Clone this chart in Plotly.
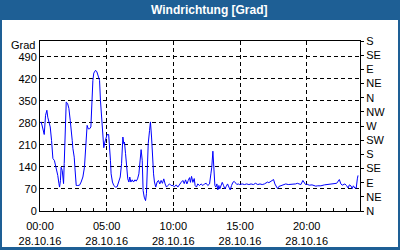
import plotly.graph_objects as go

DATE = "2016-10-28"
times = ["00:02","00:05","00:10","00:16","00:19","00:25","00:31","00:35","00:40","00:46","00:52","00:58",
         "01:05","01:13","01:20","01:25","01:28","01:32","01:35","01:40","01:43","01:46","01:49","01:52","01:55","01:58",
         "02:04","02:10","02:16","02:20","02:25","02:28","02:34","02:37","02:40","02:43","02:50","02:58",
         "03:05","03:13","03:20","03:25","03:28","03:32","03:37","03:43","03:49","03:53","03:58",
         "04:02","04:10","04:16","04:22","04:28","04:32","04:37","04:43","04:47","04:52","04:58",
         "05:02","05:09","05:13","05:17","05:20","05:26","05:32","05:40","05:47","05:55",
         "06:01","06:07","06:13","06:17","06:20","06:25","06:29","06:35","06:40","06:44","06:49","06:55",
         "07:01","07:07","07:13","07:19","07:25","07:31","07:35","07:40","07:44","07:49","07:55","07:59",
         "08:02","08:07","08:13","08:17","08:22","08:26","08:31","08:35","08:41","08:47","08:53","08:59",
         "09:05","09:11","09:17","09:23","09:29","09:35","09:43","09:50","09:58",
         "10:05","10:13","10:20","10:28","10:35","10:43","10:49","10:55",
         "11:01","11:07","11:13","11:17","11:22","11:28","11:34","11:38","11:44","11:50","11:58",
         "12:05","12:13","12:20","12:28","12:35","12:43","12:49","12:53","12:58",
         "13:02","13:07","13:11","13:16","13:20","13:25","13:29","13:35","13:40","13:46","13:52","13:58",
         "14:04","14:10","14:16","14:22","14:28","14:34","14:40","14:46","14:52","14:58",
         "15:10","15:20","15:30","15:40","15:50","16:00","16:10","16:20","16:30","16:40","16:50",
         "17:00","17:04","17:10","17:22","17:31","17:37","17:42","17:49","17:55",
         "18:04","18:15","18:26","18:37","18:49","19:00","19:10","19:18","19:34","19:43","19:48","19:55",
         "20:02","20:12","20:24","20:41","20:50","21:04","21:20","21:34","21:50",
         "22:04","22:15","22:27","22:34","22:40","22:52","22:59",
         "23:07","23:12","23:19","23:25","23:30","23:37","23:43","23:48","23:51"]
values = [280,283,270,256,243,304,320,298,280,267,224,167,
          160,139,113,88,76,97,139,129,103,87,151,215,288,346,
          342,326,288,267,224,199,171,139,97,81,81,82,
          92,108,139,203,240,272,261,261,267,341,415,
          438,447,442,431,415,352,293,246,201,219,235,
          243,243,214,161,118,92,81,76,77,92,
          108,150,235,214,219,182,139,102,92,108,92,99,
          92,99,95,102,118,161,195,161,65,44,33,55,
          129,214,256,283,235,171,118,92,76,92,97,86,
          97,88,102,86,76,81,86,81,81,
          77,83,76,86,91,97,87,99,
          86,97,106,91,110,91,103,81,76,86,81,
          86,81,86,88,81,86,118,139,190,
          139,81,76,86,67,81,70,86,91,81,70,78,
          86,76,67,81,91,94,88,84,86,84,
          86,84,86,84,86,84,88,84,86,84,86,
          90,92,90,97,100,86,80,71,78,
          80,82,86,84,84,86,86,88,84,97,90,84,
          85,82,83,79,80,80,83,84,84,
          86,88,100,86,82,86,81,
          73,83,80,71,80,73,73,102,113]

left_ticks = [0, 70, 140, 210, 280, 350, 420, 490]
right_tickvals = [0, 45, 90, 135, 180, 225, 270, 315, 360, 405, 450, 495, 540]
right_ticktext = ["N", "NE", "E", "SE", "S", "SW", "W", "NW", "N", "NE", "E", "SE", "S"]

FONT = "Liberation Sans"
x = [f"{DATE} {t}" for t in times]

fig = go.Figure()
fig.add_trace(go.Scatter(x=x, y=values, mode="lines", line=dict(color="#0000ff", width=1),
                         hoverinfo="skip", showlegend=False))
fig.add_trace(go.Scatter(x=[x[0]], y=[None], yaxis="y2", mode="lines", hoverinfo="skip",
                         showlegend=False))

fig.update_layout(
    width=400, height=250, autosize=False,
    margin=dict(l=40, r=40, t=41, b=39, pad=0),
    paper_bgcolor="#1e5f95", plot_bgcolor="white",
    font=dict(family=FONT, size=11, color="black"),
    xaxis=dict(type="date", range=[f"{DATE} 00:00", "2016-10-29 00:00"],
               tick0=f"{DATE} 00:00", dtick=5 * 3600000,
               tickformat="%H:%M<br>%d.%m.%y",
               ticks="inside", ticklen=3, tickcolor="black",
               ticklabelstandoff=5, automargin=False,
               showgrid=True, gridcolor="black", griddash="4px,3px", gridwidth=1,
               showline=True, linecolor="black", linewidth=1, mirror=True,
               zeroline=False,
               minor=dict(dtick=3600000, ticks="inside", ticklen=3, tickcolor="black", showgrid=False),
               tickfont=dict(family=FONT, size=11, color="black")),
    yaxis=dict(range=[0, 540], tickvals=left_ticks, ticks="", automargin=False,
               showgrid=True, gridcolor="black", griddash="4px,3px", gridwidth=1,
               showline=True, linecolor="black", linewidth=1, mirror=True,
               zeroline=False, tickfont=dict(family=FONT, size=11, color="black")),
    yaxis2=dict(range=[0, 540], overlaying="y", side="right", automargin=False,
                tickvals=right_tickvals, ticktext=right_ticktext,
                ticks="outside", ticklen=3, tickcolor="black",
                showgrid=False, zeroline=False, showline=True, linecolor="black",
                tickfont=dict(family=FONT, size=11, color="black")),
    shapes=[dict(type="rect", xref="paper", yref="paper",
                 x0=-0.11875, x1=1.11875, y0=-0.2118, y1=1.1235,
                 fillcolor="white", line=dict(width=0), layer="below")],
    annotations=[
        dict(text="<b>Windrichtung [Grad]</b>", xref="paper", yref="paper",
             x=0.53, y=1.182, xanchor="center", yanchor="middle", showarrow=False,
             font=dict(family=FONT, size=12, color="white")),
        dict(text="Grad", xref="paper", yref="paper", x=-0.0109, y=0.978,
             xanchor="right", yanchor="middle", showarrow=False,
             font=dict(family=FONT, size=11, color="black")),
    ],
)

fig.write_html("out.html")
